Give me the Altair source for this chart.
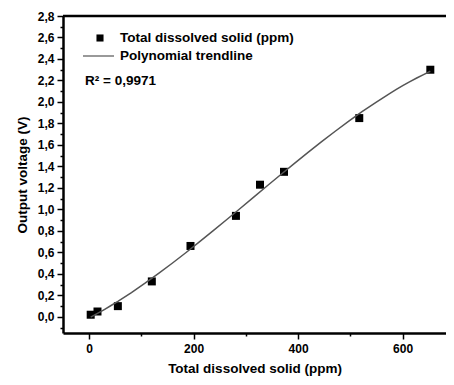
import altair as alt
import pandas as pd

tds = [3, 16, 55, 120, 194, 281, 327, 373, 517, 653]
volt = [0.02, 0.05, 0.10, 0.33, 0.66, 0.94, 1.23, 1.35, 1.85, 2.30]
x_ticks = [0, 100, 200, 300, 400, 500, 600]
y_ticks = [round(0.1 * i, 1) for i in range(-1, 29)]
legend_labels = ["Total dissolved solid (ppm)", "Polynomial trendline"]
r2_text = "R\u00b2 = 0,9971"

df = pd.DataFrame({"tds": tds, "v": volt})
FONT = "Liberation Sans"
xs = alt.Scale(domain=[-50, 683], nice=False, zero=False)
ys = alt.Scale(domain=[-0.15, 2.8], nice=False, zero=False)

x_major_test = "datum.value % 200 === 0"
y_major_test = "abs(round(datum.value * 10)) % 2 === 0"

base = alt.Chart(df)

pts = base.mark_square(size=64, color="black", opacity=1).encode(
    x=alt.X("tds:Q", scale=xs, axis=alt.Axis(
        values=x_ticks, tickCount=50, title="Total dissolved solid (ppm)", grid=False,
        labelExpr="datum.value % 200 === 0 ? datum.label : ''",
        labelOverlap=False,
        tickSize={"condition": {"test": x_major_test, "value": 6}, "value": 3},
        domainColor="black", domainWidth=2.5, tickColor="black", tickWidth=1.5,
        labelFont=FONT, labelFontSize=12, labelFontWeight="bold", labelColor="black",
        labelPadding=4, titleFont=FONT, titleFontSize=13.5, titleFontWeight="bold",
        titleColor="black", titlePadding=7)),
    y=alt.Y("v:Q", scale=ys, axis=alt.Axis(
        values=y_ticks, tickCount=100, title="Output voltage (V)", grid=False,
        labelExpr="abs(round(datum.value * 10)) % 2 === 0 ? replace(format(datum.value, '.1f'), '.', ',') : ''",
        labelOverlap=False,
        tickSize={"condition": {"test": y_major_test, "value": 6}, "value": 3},
        domainColor="black", domainWidth=2.5, tickColor="black", tickWidth=1.5,
        labelFont=FONT, labelFontSize=12, labelFontWeight="bold", labelColor="black",
        labelPadding=3, titleFont=FONT, titleFontSize=13.5, titleFontWeight="bold",
        titleColor="black", titlePadding=8)),
)

trend = base.transform_regression("tds", "v", method="poly", order=3).mark_line(
    color="#555555", strokeWidth=1.5).encode(
    x=alt.X("tds:Q", scale=xs), y=alt.Y("v:Q", scale=ys))

top = alt.Chart(pd.DataFrame({"a": [0]})).mark_rule(color="black", strokeWidth=2.5).encode(
    x=alt.value(0), x2=alt.value(383), y=alt.value(0))

leg_marker = alt.Chart(pd.DataFrame({"a": [0]})).mark_square(size=50, color="black", opacity=1).encode(
    x=alt.value(37), y=alt.value(22))
leg_line = alt.Chart(pd.DataFrame({"a": [0]})).mark_rule(color="#777777", strokeWidth=1.5).encode(
    x=alt.value(20), x2=alt.value(51), y=alt.value(40))
leg_text = alt.Chart(pd.DataFrame({"t": legend_labels, "y": [22, 40]})).mark_text(
    align="left", baseline="middle", font=FONT, fontSize=13.5, fontWeight="bold", color="black").encode(
    x=alt.value(57), y=alt.Y("y:Q", scale=None), text="t:N")
r2 = alt.Chart(pd.DataFrame({"t": [r2_text]})).mark_text(
    align="left", baseline="middle", font=FONT, fontSize=13.5, fontWeight="bold", color="black").encode(
    x=alt.value(22), y=alt.value(65), text="t:N")

chart = alt.layer(pts, trend, top, leg_marker, leg_line, leg_text, r2).properties(
    width=383, height=317,
    autosize=alt.AutoSizeParams(type="none"),
    padding={"left": 55, "top": 8, "right": 0, "bottom": 44},
    background="white",
).configure_view(stroke=None)

chart.save("out.html", embed_options={"renderer": "svg", "actions": False})
